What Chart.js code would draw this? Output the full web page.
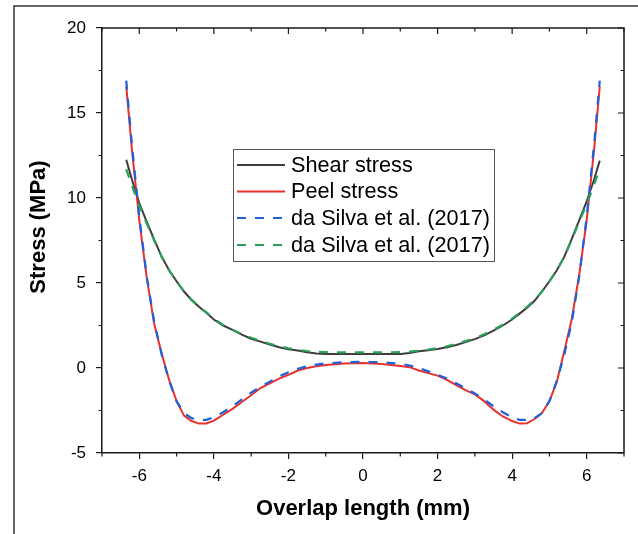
<!DOCTYPE html>
<html>
<head>
<meta charset="utf-8">
<script src="https://cdn.jsdelivr.net/npm/chart.js@4/dist/chart.umd.min.js"></script>
<style>
html,body{margin:0;padding:0;background:#fff;}
#wrap{width:638px;height:534px;position:relative;}
</style>
</head>
<body>
<div id="wrap"><canvas id="c" width="638" height="534"></canvas></div>
<script>
// ---- data ----
const xValues = [-6.35,-6.2,-6.0,-5.8,-5.6,-5.4,-5.2,-5.0,-4.8,-4.6,-4.4,-4.2,-4.0,-3.75,-3.5,-3.25,-3.0,-2.75,-2.5,-2.25,-2.0,-1.75,-1.5,-1.25,-1.0,-0.5,0,0.5,1.0,1.25,1.5,1.75,2.0,2.25,2.5,2.75,3.0,3.25,3.5,3.75,4.0,4.2,4.4,4.6,4.8,5.0,5.2,5.4,5.6,5.8,6.0,6.2,6.35];
const shearStress = [12.25,11.1,9.7,8.6,7.55,6.55,5.75,5.1,4.5,4.0,3.6,3.25,2.85,2.5,2.24,1.96,1.72,1.55,1.38,1.22,1.1,1.03,0.93,0.86,0.82,0.82,0.82,0.82,0.83,0.88,0.98,1.05,1.12,1.22,1.35,1.52,1.7,1.92,2.2,2.5,2.85,3.2,3.55,3.95,4.5,5.1,5.75,6.55,7.6,8.7,9.8,11.1,12.2];
const peelStress = [16.6,12.9,8.7,5.3,2.6,0.85,-0.7,-1.95,-2.8,-3.12,-3.27,-3.26,-3.1,-2.75,-2.4,-2.0,-1.6,-1.18,-0.9,-0.62,-0.4,-0.15,0.0,0.1,0.17,0.26,0.3,0.24,0.12,0.05,-0.15,-0.3,-0.45,-0.7,-1.0,-1.3,-1.55,-1.95,-2.45,-2.85,-3.12,-3.27,-3.25,-3.0,-2.65,-1.95,-0.8,1.0,2.9,5.5,8.7,12.9,16.55];
const daSilvaPeel = [16.9,13.2,8.9,5.4,2.7,0.8,-0.75,-1.95,-2.65,-2.95,-3.05,-3.05,-2.9,-2.6,-2.25,-1.85,-1.45,-1.1,-0.8,-0.5,-0.25,-0.05,0.1,0.2,0.27,0.34,0.36,0.34,0.25,0.15,0.0,-0.2,-0.4,-0.62,-0.9,-1.2,-1.5,-1.85,-2.25,-2.6,-2.9,-3.05,-3.05,-2.95,-2.65,-1.95,-0.75,0.8,2.7,5.4,8.9,13.2,16.9];
const daSilvaShear = [11.7,10.75,9.55,8.5,7.5,6.55,5.75,5.1,4.5,4.02,3.62,3.27,2.9,2.52,2.25,2.0,1.78,1.6,1.43,1.28,1.16,1.07,1.0,0.95,0.93,0.92,0.92,0.92,0.93,0.96,1.02,1.08,1.17,1.28,1.42,1.58,1.76,1.98,2.25,2.55,2.9,3.25,3.6,4.0,4.5,5.1,5.75,6.55,7.55,8.6,9.65,10.8,11.7];
const seriesLabels = ['Shear stress','Peel stress','da Silva et al. (2017)','da Silva et al. (2017)'];
const xTickValues = [-6,-4,-2,0,2,4,6];
const yTickValues = [-5,0,5,10,15,20];
const xTitle = 'Overlap length (mm)';
const yTitle = 'Stress (MPa)';

const FONT = "'Liberation Sans', Arial, Helvetica, sans-serif";
const pts = arr => arr.map((v,i)=>({x:xValues[i], y:v}));

// frame, inner/minor ticks, y title, legend
const decor = {
  id:'decor',
  beforeDraw(chart){
    const ctx = chart.ctx;
    ctx.save();
    ctx.strokeStyle = '#333';
    ctx.lineWidth = 1.5;
    ctx.beginPath();
    ctx.moveTo(14, 534); ctx.lineTo(14, 6); ctx.lineTo(638, 6);
    ctx.stroke();
    ctx.restore();
  },
  afterDraw(chart){
    const ctx = chart.ctx, a = chart.chartArea;
    const xs = chart.scales.x, ys = chart.scales.y;
    ctx.save();
    ctx.strokeStyle = '#1a1a1a';
    ctx.lineWidth = 1.5;
    ctx.beginPath();
    ctx.moveTo(a.left, a.top); ctx.lineTo(a.right, a.top); ctx.lineTo(a.right, a.bottom);
    ctx.stroke();
    ctx.lineWidth = 1.2;
    ctx.beginPath();
    for (let v = xs.min; v <= xs.max + 1e-9; v += 1) {
      const px = xs.getPixelForValue(v);
      const major = Math.abs(v % 2) < 1e-9;
      const L = major ? 6 : 3.5;
      ctx.moveTo(px, a.top); ctx.lineTo(px, a.top + L);
      if (!major) { ctx.moveTo(px, a.bottom); ctx.lineTo(px, a.bottom + L); }
    }
    for (let v = ys.min; v <= ys.max + 1e-9; v += 2.5) {
      const py = ys.getPixelForValue(v);
      const major = Math.abs(v % 5) < 1e-9;
      const L = major ? 6 : 3.5;
      ctx.moveTo(a.right, py); ctx.lineTo(a.right - L, py);
      if (!major) { ctx.moveTo(a.left, py); ctx.lineTo(a.left - L, py); }
    }
    ctx.stroke();
    ctx.fillStyle = '#000';
    ctx.font = "bold 22px " + FONT;
    ctx.textAlign = 'center';
    ctx.textBaseline = 'middle';
    ctx.translate(39, 227);
    ctx.rotate(-Math.PI/2);
    ctx.fillText(yTitle, 0, 0);
    ctx.restore();
    // legend
    ctx.save();
    ctx.strokeStyle = '#555';
    ctx.lineWidth = 1;
    ctx.strokeRect(233.5, 149.5, 261, 112);
    ctx.font = "21.7px " + FONT;
    ctx.textAlign = 'left';
    ctx.textBaseline = 'middle';
    const rows = [165, 191.5, 218, 245];
    chart.data.datasets.forEach((ds, i) => {
      ctx.strokeStyle = ds.borderColor;
      ctx.lineWidth = ds.borderWidth;
      ctx.setLineDash(ds.borderDash || []);
      ctx.beginPath();
      ctx.moveTo(237, rows[i]); ctx.lineTo(285, rows[i]);
      ctx.stroke();
      ctx.setLineDash([]);
      ctx.fillStyle = '#000';
      ctx.fillText(ds.label, 291, rows[i] + 1);
    });
    ctx.restore();
  }
};

const colors = ['#3d3d3d', '#e8312f', '#1f62d8', '#2aa05a'];
const datasets = [
  {label: seriesLabels[0], data: pts(shearStress), borderColor: colors[0], borderWidth: 2, order: 4},
  {label: seriesLabels[1], data: pts(peelStress), borderColor: colors[1], borderWidth: 2, order: 3},
  {label: seriesLabels[2], data: pts(daSilvaPeel), borderColor: colors[2], borderWidth: 2.2, borderDash: [9,9], order: 2},
  {label: seriesLabels[3], data: pts(daSilvaShear), borderColor: colors[3], borderWidth: 2.2, borderDash: [9,9], order: 1}
].map(d => Object.assign({pointRadius: 0, tension: 0, fill: false}, d));

new Chart(document.getElementById('c'), {
  type: 'line',
  data: {datasets},
  options: {
    responsive: false,
    animation: false,
    events: [],
    layout: {padding: {left: 0, top: 28, right: 14, bottom: 0}},
    plugins: {legend: {display: false}, tooltip: {enabled: false}},
    scales: {
      x: {
        type: 'linear', min: -7, max: 7,
        afterBuildTicks: s => { s.ticks = xTickValues.map(v => ({value: v})); },
        afterFit: s => { s.height = 81; },
        grid: {display: true, drawOnChartArea: false, drawTicks: true, tickLength: 6, color: '#1a1a1a', lineWidth: 1.2},
        border: {display: true, color: '#1a1a1a', width: 1.5},
        ticks: {color: '#000', font: {family: FONT, size: 17}, padding: 7, maxRotation: 0, autoSkip: false},
        title: {display: true, text: xTitle, color: '#000', font: {family: FONT, size: 22, weight: 'bold'}, padding: {top: 0, bottom: 12}}
      },
      y: {
        type: 'linear', min: -5, max: 20,
        afterBuildTicks: s => { s.ticks = yTickValues.map(v => ({value: v})); },
        afterFit: s => { s.width = 102; },
        grid: {display: true, drawOnChartArea: false, drawTicks: true, tickLength: 6, color: '#1a1a1a', lineWidth: 1.2},
        border: {display: true, color: '#1a1a1a', width: 1.5},
        ticks: {color: '#000', font: {family: FONT, size: 17}, padding: 10, autoSkip: false},
        title: {display: false}
      }
    }
  },
  plugins: [decor]
});
</script>
</body>
</html>
